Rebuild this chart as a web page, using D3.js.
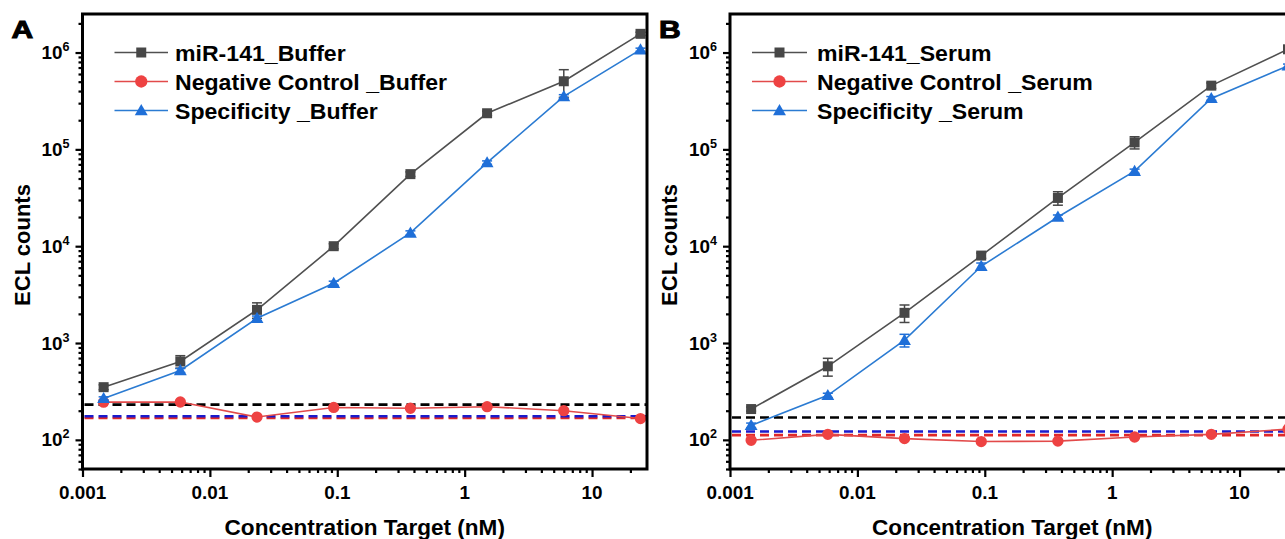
<!DOCTYPE html>
<html><head><meta charset="utf-8">
<script src="https://cdn.jsdelivr.net/npm/d3@7"></script>
<style>
body{margin:0;background:#fff}
svg{display:block}
text{font-family:"Liberation Sans",Arial,sans-serif;font-weight:bold;fill:#000}
</style>
</head><body>
<svg id="c" width="1285" height="539"></svg>
<script>
// ---------- data ----------
const concentrations = [0.00146484375, 0.005859375, 0.0234375, 0.09375, 0.375, 1.5, 6, 24];
const xTickValues = [0.001, 0.01, 0.1, 1, 10];
const xTickLabels = ["0.001", "0.01", "0.1", "1", "10"];
const yTickExponents = [2, 3, 4, 5, 6];

const bufferMiR      = [350, 645, 2200, 10000, 55500, 236000, 505000, 1560000];
const bufferMiRErr   = [20, 95, 400, 600, 3000, 12000, 160000, 60000];
const bufferNeg      = [245, 246, 172, 216, 212, 220, 200, 166];
const bufferNegErr   = [5, 5, 4, 5, 5, 5, 5, 4];
const bufferSpec     = [268, 520, 1800, 4150, 13700, 73000, 352000, 1070000];
const bufferSpecErr  = [10, 25, 100, 200, 700, 3000, 15000, 40000];
const bufferLimits   = [231, 175, 168];   // black, blue, red dashed thresholds

const serumMiR       = [208, 575, 2050, 8000, 31500, 118000, 455000, 1080000];
const serumMiRErr    = [10, 120, 420, 500, 5000, 17000, 30000, 40000];
const serumNeg       = [99, 114, 103, 96, 97, 107, 114, 129];
const serumNegErr    = [3, 3, 3, 3, 3, 3, 3, 3];
const serumSpec      = [141, 288, 1070, 6200, 20000, 59500, 336000, 730000];
const serumSpecErr   = [8, 15, 160, 500, 1000, 3000, 15000, 30000];
const serumLimits    = [170, 122, 112];

const bufferLegend = ["miR-141_Buffer", "Negative Control _Buffer", "Specificity _Buffer"];
const serumLegend  = ["miR-141_Serum", "Negative Control _Serum", "Specificity _Serum"];
const panelLetters = ["A", "B"];

// ---------- styles ----------
const seriesStyle = [
  {line:"#505050", fill:"#474747", sym:d3.symbolSquare, size:100},
  {line:"#e24a4a", fill:"#ee4242", sym:d3.symbolCircle, size:100},
  {line:"#2b7bd2", fill:"#1f6fd8", sym:d3.symbolTriangle, size:72}
];
const limitColors = ["#000000", "#1a1acc", "#e02828"];
const SX = 1.05;

const svg = d3.select("#c");

function txt(g, x, y, s, size, anchor, sx) {
  return g.append("text")
    .attr("transform", `translate(${x},${y}) scale(${sx},1)`)
    .attr("font-size", size)
    .attr("text-anchor", anchor)
    .text(s);
}

const yScaleBase = d3.scaleLog().domain([50, 2.5e6]).range([469, 14]);

function panel(cfg) {
  const x = d3.scaleLog().domain([0.001, 27]).range([cfg.left, cfg.right]);
  const y = yScaleBase;
  const g = svg.append("g");
  const [x0, x1] = x.range();
  const [yb, yt] = y.range();

  const yMinor = [];
  for (let e = 1; e <= 6; e++) for (let m = 2; m <= 9; m++) {
    const v = m * Math.pow(10, e);
    if (v >= 50 && v <= 2.5e6) yMinor.push(v);
  }
  const xMinor = [];
  for (let e = -3; e <= 1; e++) for (let m = 2; m <= 9; m++) {
    const v = m * Math.pow(10, e);
    if (v <= 27) xMinor.push(v);
  }
  const yMajor = yTickExponents.map(e => Math.pow(10, e));

  const axY = g.append("g").attr("transform", `translate(${x0},0)`);
  axY.call(d3.axisLeft(y).tickValues(yMinor).tickSize(4).tickFormat(""));
  axY.append("g").call(d3.axisLeft(y).tickValues(yMajor).tickSize(7).tickFormat(""));
  axY.selectAll(".domain").remove();
  axY.selectAll("line").attr("stroke", "#000").attr("stroke-width", 2.2);

  const axX = g.append("g").attr("transform", `translate(0,${yb})`);
  axX.call(d3.axisBottom(x).tickValues(xMinor).tickSize(4).tickFormat(""));
  axX.append("g").call(d3.axisBottom(x).tickValues(xTickValues).tickSize(8).tickFormat(""));
  axX.selectAll(".domain").remove();
  axX.selectAll("line").attr("stroke", "#000").attr("stroke-width", 2.2);

  xTickValues.forEach((v, i) => txt(g, x(v), 499, xTickLabels[i], 18, "middle", SX));
  yTickExponents.forEach(e => {
    const t = g.append("text")
      .attr("transform", `translate(${x0 - 13},${y(Math.pow(10, e)) + 6.5}) scale(${SX},1)`)
      .attr("font-size", 18).attr("text-anchor", "end");
    t.append("tspan").text("10");
    t.append("tspan").attr("font-size", 12).attr("dy", -8).text(String(e));
  });

  txt(g, (x0 + x1) / 2, 535, "Concentration Target (nM)", 21.5, "middle", SX);
  g.append("text").attr("transform", `translate(${x0 - 53},245) rotate(-90)`)
    .attr("font-size", 22).attr("text-anchor", "middle").text("ECL counts");

  g.append("text").attr("transform", `translate(${x0 - 71},37.5) scale(1.25,1)`)
    .attr("font-size", 24).attr("font-weight", 900).attr("stroke", "#000").attr("stroke-width", 1)
    .text(cfg.letter);

  [cfg.limits[0], cfg.limits[2], cfg.limits[1]].forEach((v, k) => {
    const col = [limitColors[0], limitColors[2], limitColors[1]][k];
    g.append("line").attr("x1", x0 + 2).attr("x2", x1).attr("y1", y(v)).attr("y2", y(v))
      .attr("stroke", col).attr("stroke-width", 2.6).attr("stroke-dasharray", "9,5");
  });

  const line = d3.line().x(d => x(d[0])).y(d => y(d[1]));
  cfg.series.forEach((s, k) => {
    const st = seriesStyle[k];
    const pts = concentrations.map((c, i) => [c, s.v[i], s.e[i]]);
    g.append("path").datum(pts).attr("d", line).attr("fill", "none")
      .attr("stroke", st.line).attr("stroke-width", 1.6);
    pts.forEach(p => {
      const ya = y(p[1] + p[2]), yb2 = y(Math.max(p[1] - p[2], 1));
      const cx = x(p[0]);
      g.append("line").attr("x1", cx).attr("x2", cx).attr("y1", ya).attr("y2", yb2)
        .attr("stroke", st.fill).attr("stroke-width", 1.5);
      [ya, yb2].forEach(yy => g.append("line").attr("x1", cx - 5).attr("x2", cx + 5)
        .attr("y1", yy).attr("y2", yy).attr("stroke", st.fill).attr("stroke-width", 1.5));
    });
    g.selectAll(null).data(pts).join("path")
      .attr("d", d3.symbol().type(st.sym).size(st.size))
      .attr("transform", d => `translate(${x(d[0])},${y(d[1]) + (k === 2 ? 1 : 0)})`)
      .attr("fill", st.fill);
  });

  g.append("rect").attr("x", x0).attr("y", yt).attr("width", x1 - x0).attr("height", yb - yt)
    .attr("fill", "none").attr("stroke", "#000").attr("stroke-width", 3);

  const L = cfg.legend;
  cfg.legendNames.forEach((name, k) => {
    const st = seriesStyle[k];
    const ry = L.rows[k];
    g.append("line").attr("x1", L.x1).attr("x2", L.x2).attr("y1", ry).attr("y2", ry)
      .attr("stroke", st.line).attr("stroke-width", 1.6);
    g.append("path").attr("d", d3.symbol().type(st.sym).size(k === 1 ? 120 : st.size)())
      .attr("transform", `translate(${(L.x1 + L.x2) / 2},${ry + (k === 2 ? 1 : 0)})`)
      .attr("fill", st.fill);
    txt(g, L.tx, ry + 8, name, 22, "start", SX);
  });
}

panel({
  left: 82.5, right: 647, letter: panelLetters[0], limits: bufferLimits,
  series: [{v: bufferMiR, e: bufferMiRErr}, {v: bufferNeg, e: bufferNegErr}, {v: bufferSpec, e: bufferSpecErr}],
  legendNames: bufferLegend,
  legend: {x1: 114.5, x2: 168, tx: 175, rows: [52.5, 81.5, 110.5]}
});
panel({
  left: 730, right: 1294.5, letter: panelLetters[1], limits: serumLimits,
  series: [{v: serumMiR, e: serumMiRErr}, {v: serumNeg, e: serumNegErr}, {v: serumSpec, e: serumSpecErr}],
  legendNames: serumLegend,
  legend: {x1: 752, x2: 807, tx: 817, rows: [52.5, 81.5, 110.5]}
});
</script>
</body></html>
